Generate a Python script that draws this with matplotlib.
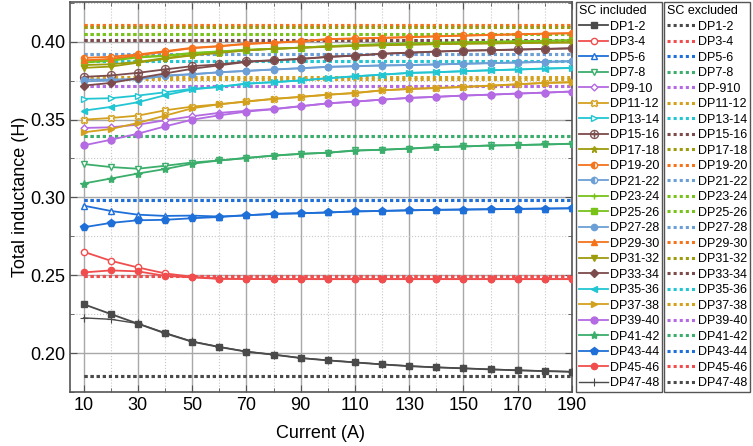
import matplotlib
matplotlib.use("Agg")
from matplotlib import pyplot as plt
from matplotlib.ticker import MultipleLocator
import numpy as np

plt.rcParams['font.family'] = ['Liberation Sans', 'DejaVu Sans']

current = [10, 20, 30, 40, 50, 60, 70, 80, 90, 100, 110, 120, 130, 140, 150, 160, 170, 180, 190]

labels_in = ['DP1-2', 'DP3-4', 'DP5-6', 'DP7-8', 'DP9-10', 'DP11-12', 'DP13-14', 'DP15-16',
             'DP17-18', 'DP19-20', 'DP21-22', 'DP23-24', 'DP25-26', 'DP27-28', 'DP29-30',
             'DP31-32', 'DP33-34', 'DP35-36', 'DP37-38', 'DP39-40', 'DP41-42', 'DP43-44',
             'DP45-46', 'DP47-48']
labels_ex = ['DP1-2', 'DP3-4', 'DP5-6', 'DP7-8', 'DP-910', 'DP11-12', 'DP13-14', 'DP15-16',
             'DP17-18', 'DP19-20', 'DP21-22', 'DP23-24', 'DP25-26', 'DP27-28', 'DP29-30',
             'DP31-32', 'DP33-34', 'DP35-36', 'DP37-38', 'DP39-40', 'DP41-42', 'DP43-44',
             'DP45-46', 'DP47-48']

# total inductance with short-circuit (SC) included, one list per pair
dp1_2 = [0.2314, 0.2251, 0.2189, 0.2127, 0.2073, 0.2039, 0.2009, 0.1990, 0.1968, 0.1953, 0.1940, 0.1927, 0.1916, 0.1908, 0.1902, 0.1895, 0.1889, 0.1884, 0.1880]
dp3_4 = [0.2651, 0.2593, 0.2550, 0.2512, 0.2490, 0.2478, 0.2476, 0.2475, 0.2475, 0.2475, 0.2475, 0.2475, 0.2475, 0.2475, 0.2475, 0.2475, 0.2475, 0.2475, 0.2475]
dp5_6 = [0.2947, 0.2913, 0.2889, 0.2881, 0.2883, 0.2877, 0.2885, 0.2894, 0.2898, 0.2903, 0.2910, 0.2913, 0.2917, 0.2920, 0.2922, 0.2924, 0.2926, 0.2928, 0.2930]
dp7_8 = [0.3214, 0.3195, 0.3184, 0.3203, 0.3224, 0.3237, 0.3254, 0.3269, 0.3280, 0.3287, 0.3302, 0.3306, 0.3314, 0.3323, 0.3327, 0.3334, 0.3336, 0.3340, 0.3345]
dp9_10 = [0.3446, 0.3450, 0.3467, 0.3495, 0.3521, 0.3543, 0.3556, 0.3568, 0.3586, 0.3604, 0.3615, 0.3628, 0.3639, 0.3646, 0.3654, 0.3660, 0.3667, 0.3673, 0.3680]
dp11_12 = [0.3499, 0.3510, 0.3525, 0.3559, 0.3583, 0.3598, 0.3617, 0.3633, 0.3646, 0.3660, 0.3671, 0.3688, 0.3697, 0.3703, 0.3710, 0.3718, 0.3727, 0.3736, 0.3740]
dp13_14 = [0.3633, 0.3637, 0.3654, 0.3675, 0.3697, 0.3710, 0.3731, 0.3740, 0.3751, 0.3766, 0.3778, 0.3789, 0.3800, 0.3804, 0.3811, 0.3817, 0.3822, 0.3828, 0.3832]
dp15_16 = [0.3774, 0.3783, 0.3800, 0.3822, 0.3843, 0.3854, 0.3873, 0.3881, 0.3890, 0.3903, 0.3911, 0.3923, 0.3930, 0.3937, 0.3943, 0.3946, 0.3950, 0.3954, 0.3958]
dp17_18 = [0.3850, 0.3855, 0.3870, 0.3895, 0.3915, 0.3930, 0.3945, 0.3955, 0.3962, 0.3968, 0.3974, 0.3978, 0.3982, 0.3985, 0.3988, 0.3990, 0.3992, 0.3994, 0.3996]
dp19_20 = [0.3896, 0.3903, 0.3918, 0.3939, 0.3961, 0.3972, 0.3987, 0.3994, 0.4003, 0.4017, 0.4021, 0.4025, 0.4030, 0.4035, 0.4040, 0.4044, 0.4048, 0.4052, 0.4055]
dp21_22 = [0.3757, 0.3757, 0.3761, 0.3783, 0.3792, 0.3804, 0.3813, 0.3822, 0.3830, 0.3839, 0.3843, 0.3848, 0.3850, 0.3854, 0.3858, 0.3863, 0.3867, 0.3871, 0.3875]
dp23_24 = [0.3875, 0.3886, 0.3903, 0.3911, 0.3928, 0.3938, 0.3948, 0.3955, 0.3962, 0.3972, 0.3978, 0.3984, 0.3989, 0.3993, 0.3997, 0.4000, 0.4003, 0.4006, 0.4010]
dp25_26 = [0.3865, 0.3878, 0.3898, 0.3908, 0.3925, 0.3936, 0.3947, 0.3954, 0.3961, 0.3971, 0.3977, 0.3983, 0.3988, 0.3992, 0.3996, 0.3999, 0.4002, 0.4005, 0.4009]
dp27_28 = [0.3745, 0.3750, 0.3758, 0.3780, 0.3790, 0.3803, 0.3812, 0.3821, 0.3829, 0.3838, 0.3842, 0.3847, 0.3850, 0.3854, 0.3858, 0.3862, 0.3866, 0.3870, 0.3874]
dp29_30 = [0.3880, 0.3890, 0.3912, 0.3935, 0.3958, 0.3970, 0.3985, 0.3993, 0.4002, 0.4016, 0.4020, 0.4024, 0.4029, 0.4034, 0.4039, 0.4043, 0.4047, 0.4051, 0.4054]
dp31_32 = [0.3832, 0.3840, 0.3865, 0.3890, 0.3912, 0.3928, 0.3944, 0.3954, 0.3961, 0.3967, 0.3973, 0.3977, 0.3981, 0.3984, 0.3987, 0.3989, 0.3991, 0.3993, 0.3995]
dp33_34 = [0.3718, 0.3735, 0.3766, 0.3796, 0.3826, 0.3848, 0.3870, 0.3880, 0.3889, 0.3902, 0.3910, 0.3922, 0.3929, 0.3936, 0.3942, 0.3945, 0.3949, 0.3953, 0.3957]
dp35_36 = [0.3557, 0.3581, 0.3611, 0.3656, 0.3693, 0.3710, 0.3730, 0.3740, 0.3751, 0.3765, 0.3777, 0.3788, 0.3799, 0.3804, 0.3810, 0.3816, 0.3821, 0.3827, 0.3831]
dp37_38 = [0.3418, 0.3439, 0.3478, 0.3525, 0.3572, 0.3598, 0.3615, 0.3632, 0.3645, 0.3659, 0.3670, 0.3687, 0.3696, 0.3702, 0.3709, 0.3717, 0.3726, 0.3735, 0.3739]
dp39_40 = [0.3334, 0.3370, 0.3409, 0.3456, 0.3499, 0.3527, 0.3551, 0.3566, 0.3585, 0.3604, 0.3615, 0.3628, 0.3639, 0.3646, 0.3654, 0.3660, 0.3667, 0.3673, 0.3680]
dp41_42 = [0.3089, 0.3121, 0.3153, 0.3182, 0.3216, 0.3237, 0.3252, 0.3268, 0.3279, 0.3287, 0.3300, 0.3306, 0.3313, 0.3322, 0.3327, 0.3333, 0.3336, 0.3340, 0.3344]
dp43_44 = [0.2808, 0.2836, 0.2853, 0.2856, 0.2866, 0.2874, 0.2885, 0.2894, 0.2898, 0.2903, 0.2910, 0.2913, 0.2917, 0.2920, 0.2922, 0.2924, 0.2926, 0.2928, 0.2930]
dp45_46 = [0.2518, 0.2531, 0.2525, 0.2496, 0.2486, 0.2477, 0.2476, 0.2475, 0.2475, 0.2475, 0.2475, 0.2475, 0.2475, 0.2475, 0.2475, 0.2475, 0.2475, 0.2475, 0.2475]
dp47_48 = [0.2226, 0.2217, 0.2190, 0.2130, 0.2075, 0.2040, 0.2010, 0.1990, 0.1969, 0.1954, 0.1941, 0.1928, 0.1917, 0.1909, 0.1902, 0.1896, 0.1890, 0.1885, 0.1880]

sc_included = [dp1_2, dp3_4, dp5_6, dp7_8, dp9_10, dp11_12, dp13_14, dp15_16, dp17_18,
               dp19_20, dp21_22, dp23_24, dp25_26, dp27_28, dp29_30, dp31_32, dp33_34,
               dp35_36, dp37_38, dp39_40, dp41_42, dp43_44, dp45_46, dp47_48]

# SC excluded: constant value per pair
sc_excluded = [0.1850, 0.2497, 0.2984, 0.3396, 0.3718, 0.3762, 0.3873, 0.4010, 0.4095,
               0.4108, 0.3923, 0.4051, 0.4051, 0.3923, 0.4108, 0.4095, 0.4010, 0.3873,
               0.3772, 0.3718, 0.3396, 0.2984, 0.2497, 0.1850]

palette = ['#4a4a4a', '#f04e4e', '#1f6fd8', '#3cae6c', '#b36ae2', '#d4a11e',
           '#22c6d3', '#7c4b4b', '#9c9c0c', '#f5731d', '#6c9fd6', '#78c21a']
colors = palette + palette[::-1]

# (marker, filled, size)
markers = [('s', True, 4), ('o', False, 4.5), ('^', False, 5), ('v', False, 5),
           ('D', False, 3.5), ('X', False, 5), ('>', False, 5), (r'$\oplus$', 'glyph', 6.5),
           ('*', True, 5), ('o', 'half', 4.5), ('o', 'half', 4.5), ('+', True, 5),
           ('s', True, 4), ('o', True, 4.5), ('^', True, 5), ('v', True, 5),
           ('D', True, 3.8), ('<', True, 5), ('>', True, 5), ('o', True, 5),
           ('*', True, 6), ('p', True, 5.5), ('o', True, 4.5), ('+', True, 5.5)]

fig = plt.figure(figsize=(7.53, 4.46), dpi=100)
ax = fig.add_axes([70 / 753, 54 / 446, 502 / 753, 390 / 446])

h_in = []
h_ex = []
for i in range(24):
    c = colors[i]
    ln, = ax.plot(current, [sc_excluded[i]] * len(current), color=c,
                  linestyle=(0, (1, 1)), linewidth=2.2, zorder=2)
    h_ex.append(ln)
for i in range(24):
    c = colors[i]
    m, filled, ms = markers[i]
    kw = dict(color=c, linewidth=1.3, marker=m, markersize=ms, markeredgewidth=1.0,
              markeredgecolor=c, zorder=3)
    if filled == 'half':
        kw.update(fillstyle='left', markerfacecolor=c, markerfacecoloralt='white')
    elif filled == 'glyph':
        kw.update(markerfacecolor=c, markeredgewidth=0.2)
    elif filled:
        kw.update(markerfacecolor=c)
    else:
        kw.update(markerfacecolor='white')
    if i == 23:
        kw.update(linewidth=1.0, markeredgewidth=0.8)
    ln, = ax.plot(current, sc_included[i], **kw)
    h_in.append(ln)

ax.set_xlim(5, 190)
ax.set_ylim(0.175, 0.4255)
ax.xaxis.set_minor_locator(MultipleLocator(10))
ax.set_xticks(np.arange(10, 191, 20))
ax.yaxis.set_major_locator(MultipleLocator(0.05))
ax.yaxis.set_minor_locator(MultipleLocator(0.025))
ax.yaxis.set_major_formatter(matplotlib.ticker.FormatStrFormatter('%.2f'))

ax.grid(which='major', color='#a8a8a8', linewidth=1.0, linestyle='-', zorder=0)
ax.grid(which='minor', color='#c8c8c8', linewidth=0.8, linestyle=':', zorder=0)
ax.set_axisbelow(True)
ax.tick_params(which='both', direction='in', top=True, right=True, colors='#555555',
               labelcolor='black', labelsize=13)
ax.tick_params(which='major', length=5)
ax.tick_params(which='minor', length=3)
for s in ax.spines.values():
    s.set_color('#555555')
    s.set_linewidth(1.2)

ax.set_xlabel('Current (A)', fontsize=13, labelpad=8)
ax.set_ylabel('Total inductance (H)', fontsize=13, labelpad=1)

leg_kw = dict(loc='upper left', fontsize=9, title_fontsize=9, labelspacing=0.28,
              handlelength=2.3, handletextpad=0.15, borderpad=0.25, borderaxespad=0,
              fancybox=False, framealpha=1, edgecolor='#555555', alignment='left')
leg1 = fig.legend(h_in, labels_in, title='SC included',
                  bbox_to_anchor=(576 / 753, 1 - 2 / 446), **leg_kw)
leg2 = fig.legend(h_ex, labels_ex, title='SC excluded',
                  bbox_to_anchor=(664 / 753, 1 - 2 / 446), **leg_kw)
for leg in (leg1, leg2):
    leg.get_frame().set_linewidth(1.0)

fig.savefig('out.png', dpi=100)
